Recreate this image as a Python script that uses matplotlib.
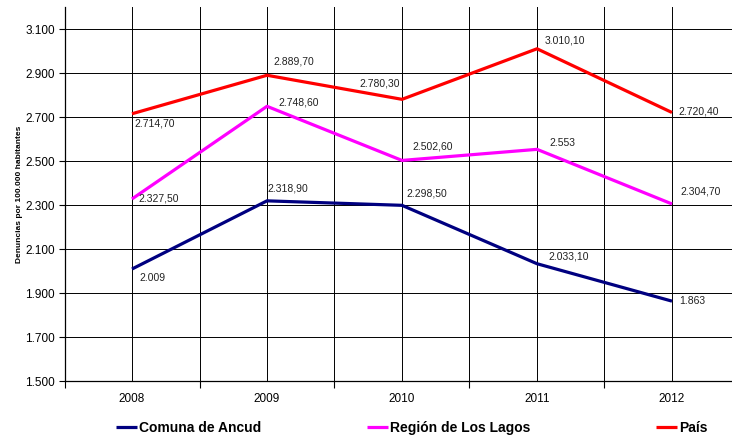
import matplotlib
import matplotlib.pyplot as plt
from matplotlib.ticker import FuncFormatter, FixedLocator

matplotlib.use("Agg")

plt.rcParams['font.family'] = ['Liberation Sans Narrow', 'Liberation Sans', 'DejaVu Sans']

years = ['2008', '2009', '2010', '2011', '2012']
ancud = [2009.0, 2318.9, 2298.5, 2033.1, 1863.0]
los_lagos = [2327.5, 2748.6, 2502.6, 2553.0, 2304.7]
pais = [2714.7, 2889.7, 2780.3, 3010.1, 2720.4]

series_names = ['Comuna de Ancud', 'Región de Los Lagos', 'País']
series_colors = ['#000080', '#FF00FF', '#FF0000']

# label offsets in pixels (dx, dy, horizontal alignment) per point
label_offsets = [
    [(7, -9, 'left'), (0, 12, 'left'), (4, 12, 'left'), (11, 7, 'left'), (7, 0, 'left')],
    [(6, 0, 'left'), (11, 4, 'left'), (10, 14, 'left'), (12, 6, 'left'), (8, 12, 'left')],
    [(2, -10, 'left'), (6, 14, 'left'), (-2, 16, 'right'), (8, 8, 'left'), (6, 1, 'left')],
]


def fmt_value(v):
    if float(v).is_integer():
        return f"{v:,.0f}".replace(",", ".")
    s = f"{v:,.2f}"
    return s.replace(",", "X").replace(".", ",").replace("X", ".")


fig = plt.figure(figsize=(7.32, 4.37), dpi=100)
ax = fig.add_axes([64.5 / 732, 1 - 381 / 437, 675 / 732, 374 / 437])

x = list(range(len(years)))
lines = []
for vals, name, color, offs in zip([ancud, los_lagos, pais], series_names, series_colors, label_offsets):
    ln, = ax.plot(x, vals, color=color, linewidth=2.3, label=name, zorder=3, solid_capstyle='butt')
    lines.append(ln)
    for xi, v, (dx, dy, ha) in zip(x, vals, offs):
        ax.annotate(fmt_value(v), (xi, v), xytext=(dx, dy), textcoords='offset pixels',
                    ha=ha, va='center', fontsize=7.5, color='#222222', zorder=4)

ax.set_xlim(-0.5, len(years) - 0.5)
ax.set_ylim(1500, 3200)

ax.set_xticks(x)
ax.set_xticklabels(years)
ax.xaxis.set_minor_locator(FixedLocator([i - 0.5 for i in range(len(years) + 1)]))
ax.tick_params(axis='x', which='major', length=0, pad=9, labelsize=8.5)
ax.tick_params(axis='x', which='minor', length=5, width=0.8, color='black')

ax.yaxis.set_major_locator(FixedLocator([1500, 1700, 1900, 2100, 2300, 2500, 2700, 2900, 3100]))
ax.yaxis.set_major_formatter(FuncFormatter(lambda v, p: f"{v:,.0f}".replace(",", ".")))
ax.tick_params(axis='y', length=4, width=0.8, labelsize=8.5, pad=3)

ax.grid(True, which='major', axis='both', color='black', linewidth=0.7, zorder=1)
ax.grid(True, which='minor', axis='x', color='black', linewidth=0.7, zorder=1)
ax.set_axisbelow(True)

ax.spines['top'].set_visible(False)
ax.spines['right'].set_visible(False)
ax.spines['left'].set_linewidth(0.9)
ax.spines['bottom'].set_linewidth(0.9)

fig.text(20 / 732, 1 - 194 / 437, 'Denuncias por 100.000 habitantes', rotation=90,
         ha='center', va='center', fontsize=6, fontweight='bold')

legend_x = [116 / 732, 367 / 732, 656 / 732]
for ln, lx in zip(lines, legend_x):
    fig.legend(handles=[ln], loc='center left', bbox_to_anchor=(lx, 1 - 428 / 437),
               frameon=False, borderpad=0, borderaxespad=0, handlelength=1.5,
               handletextpad=0.15, prop={'weight': 'bold', 'size': 10})

fig.savefig('out.png', dpi=100)
